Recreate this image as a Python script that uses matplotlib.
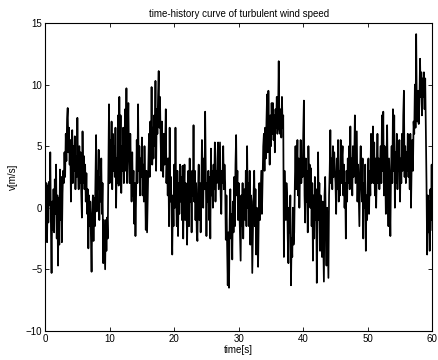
import numpy as np
import matplotlib.pyplot as plt

# wind speed samples, 10 per second
v = [
    2.4, -0.8, 2.0, -2.8, 1.8, -1.2, 2.1, 0.2, 4.5, -1.5,
    -5.3, 0.5, -1.8, 1.5, -2.0, 2.3, -0.5, 3.5, -2.5, 1.0,
    -4.7, 0.8, -3.0, 3.1, -1.0, 2.5, -2.8, 1.2, 3.0, 2.0,
    4.5, 2.5, 6.0, 3.8, 7.2, 8.1, 4.5, 6.5, 3.5, 5.5,
    0.5, 4.0, 6.3, 2.0, 5.0, 3.0, 5.8, 1.5, 4.2, 2.5,
    7.3, 3.0, 1.5, 5.0, 2.0, 4.5, 1.2, -0.8, 6.2, 2.0,
    4.2, 1.5, 3.5, 0.5, 2.8, -0.5, 1.5, -3.3, 1.0, -1.5,
    0.5, -2.5, -5.2, -0.5, 1.0, -2.7, 0.8, -1.5, 2.5, 5.9,
    -0.3, 3.0, 1.5, 4.7, -1.0, 2.5, 0.5, 4.0, -0.5, 2.0,
    -4.5, -1.0, -3.0, -5.0, -1.0, -3.5, -0.8, -2.5, 3.0, 8.4,
    2.0, 5.5, 3.0, 7.0, 1.5, 6.0, 3.0, 5.0, 2.5, 6.5,
    0.0, 4.0, 2.0, 7.5, 1.8, 9.0, 3.5, 7.5, 1.2, 5.0,
    3.0, 6.5, 2.0, 5.0, 8.0, 3.0, 9.7, 2.0, 6.0, 8.5,
    4.0, 2.0, 6.0, 3.0, 0.5, 4.5, 1.0, 3.0, -1.3, 2.0,
    -2.3, 1.0, 5.5, 2.0, 8.4, 3.0, 5.0, 1.0, 4.0, 2.5,
    5.7, 1.0, 3.5, 0.5, 5.0, 2.0, -1.8, 3.0, -2.0, 1.0,
    3.5, 6.0, 2.5, 7.0, 4.0, 9.8, 3.5, 6.5, 4.0, 7.5,
    5.0, 10.3, 3.0, 8.0, 6.0, 9.0, 11.1, 6.5, 9.0, 5.5,
    3.0, 7.0, 4.5, 2.5, 6.0, 3.5, 5.0, 8.0, 2.0, 4.0,
    1.0, 4.0, -1.5, 6.5, 0.5, 2.5, -0.5, -3.8, 1.0, -1.5,
    3.5, 0.0, 6.5, 1.0, -1.5, 3.0, -2.3, 2.0, -0.5, 3.5,
    0.5, 2.5, -1.0, 3.4, -2.5, 1.5, 3.5, -1.0, 2.0, 0.5,
    -3.0, 1.0, 3.0, -1.5, 4.0, 0.5, 2.5, -2.0, 3.0, 1.0,
    6.7, 0.5, 3.0, -1.0, 2.0, -2.0, -2.7, 1.5, 3.5, -1.0,
    2.0, -2.0, 1.0, 5.5, 2.5, 0.0, 4.0, 1.5, 7.8, 3.0,
    -2.3, 2.0, 0.5, 3.0, -1.0, 2.5, -2.5, 4.8, 1.0, 3.0,
    0.0, 3.5, 1.5, 5.3, 0.5, 3.0, 2.0, 4.0, 5.3, 1.5,
    3.5, 5.3, 1.0, -0.5, 3.0, 2.0, 5.0, 1.5, 3.5, 2.0,
    -2.6, 1.0, -3.0, -6.3, -2.0, -6.5, -1.0, 1.5, -2.5, -0.5,
    -4.2, 0.5, -2.0, 2.5, -1.5, 3.5, 5.9, 1.0, 3.0, -1.0,
    2.0, 0.0, -2.0, -4.3, 1.0, -1.5, 2.0, -2.5, 0.5, 1.5,
    -1.0, 3.0, -1.5, 5.0, 0.0, 2.0, -1.5, 3.0, -3.0, 1.0,
    0.5, -5.3, -2.0, 1.0, 3.0, -1.5, 1.5, -3.8, 0.0, -2.5,
    -4.8, -1.0, 2.0, -1.0, 1.0, 3.0, -0.5, 2.5, 5.0, 6.0,
    3.0, 6.5, 4.0, 7.0, 9.2, 4.5, 9.5, 6.0, 3.5, 7.5,
    5.0, 8.5, 6.0, 8.5, 5.5, 7.5, 4.5, 8.0, 6.5, 9.0,
    6.0, 7.5, 11.9, 6.5, 6.0, 8.0, 5.7, 9.0, 6.5, 7.5,
    -4.0, 3.0, 0.5, -1.0, 2.0, 1.0, -2.5, -4.5, 0.0, -2.0,
    1.0, -6.3, -2.5, -4.0, 0.0, -3.0, -2.0, 2.0, 5.0, 1.5,
    3.0, 5.5, 1.0, 4.0, 0.0, 3.0, 5.5, 2.0, 4.0, 2.5,
    6.0, 8.7, 1.0, -1.2, 4.0, 0.5, 3.0, -2.0, 5.0, 1.5,
    3.5, 0.0, 3.2, -1.5, 2.0, -4.3, 1.0, -2.5, 2.5, -1.0,
    1.5, -6.1, -2.0, 4.5, -1.0, 2.0, -3.5, 1.0, -2.0, -4.0,
    0.5, -2.5, -6.0, 1.0, 2.5, -1.5, -4.7, 0.0, -3.0, -5.7,
    1.0, 3.0, 6.3, 2.0, 4.0, 1.5, 5.0, 2.5, 4.5, 3.0,
    2.0, -0.5, 4.0, 1.5, 5.5, 0.5, 3.0, 1.0, 5.5, 2.0,
    4.0, 5.0, 1.0, 3.5, 0.0, 2.0, -2.5, 3.0, 0.5, 4.0,
    2.0, 5.0, 1.5, 6.6, 2.0, 4.0, 1.0, 5.0, 2.5, 3.5,
    7.5, 2.0, 4.0, 6.2, 0.5, 3.5, 1.0, -1.5, 3.0, 5.0,
    2.0, 0.5, 4.0, -2.5, 2.0, 0.0, 3.5, -3.5, 1.0, -1.0,
    2.0, 4.0, -0.5, 3.0, 1.0, 6.0, 2.0, 3.5, 6.6, 2.0,
    5.3, 1.0, 4.0, 0.0, 3.0, 6.0, 2.0, 4.0, 1.5, 3.5,
    5.0, 2.0, 7.5, 3.0, 7.8, 1.0, 5.0, 3.0, -0.5, 4.0,
    6.7, 2.0, -1.5, 4.0, 1.0, -2.3, 3.0, 5.0, 2.0, 8.0,
    3.0, 7.5, 0.0, 4.5, 2.0, 6.0, 1.5, 4.0, 3.0, 5.5,
    0.5, 4.0, 2.0, 6.0, 3.0, 7.5, 9.5, 2.5, 5.0, 2.0,
    4.5, 3.0, 6.0, 2.5, 5.0, 1.5, 6.0, 0.0, 3.5, 5.5,
    3.0, 7.0, 6.0, 10.0, 6.5, 14.1, 8.0, 7.0, 9.5, 6.8,
    8.5, 12.1, 9.0, 11.0, 7.5, 10.5, 9.0, 11.0, 8.0, 10.5,
    6.0, 2.0, -3.8, 1.0, -2.0, 0.5, -3.5, 1.5, -1.0, 3.5,
    -1.8,
]
t = np.linspace(0, 60, len(v))

plt.rcParams['font.family'] = ['Liberation Sans', 'DejaVu Sans']
plt.rcParams['font.size'] = 7

fig = plt.figure(figsize=(4.38, 3.6), dpi=100)
ax = fig.add_axes([0.103, 0.081, 0.884, 0.855])
ax.plot(t, v, color='black', linewidth=1.25)

ax.set_xlim(0, 60)
ax.set_ylim(-10, 15)
ax.set_xticks(np.arange(0, 61, 10))
ax.set_yticks(np.arange(-10, 16, 5))
ax.tick_params(direction='in', top=True, right=True, length=3, width=0.6, pad=2)
for s in ax.spines.values():
    s.set_linewidth(0.8)

ax.set_title('time-history curve of turbulent wind speed', fontsize=7, pad=4)
ax.set_xlabel('time[s]', labelpad=1)
ax.set_ylabel('v[m/s]', labelpad=6)

fig.savefig('out.png', dpi=100)
